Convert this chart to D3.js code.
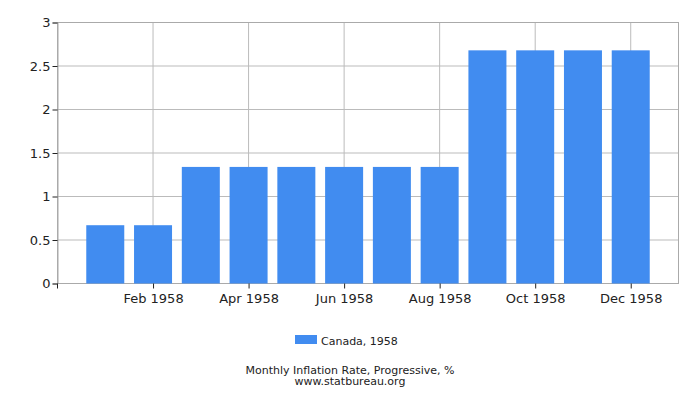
<!DOCTYPE html>
<html>
<head>
<meta charset="utf-8">
<script src="https://cdn.jsdelivr.net/npm/d3@7"></script>
<style>
  body { margin: 0; background: #fff; }
  text { font-family: "DejaVu Sans", sans-serif; fill: #222; }
</style>
</head>
<body>
<script>
// data
var months = ["Jan 1958","Feb 1958","Mar 1958","Apr 1958","May 1958","Jun 1958",
              "Jul 1958","Aug 1958","Sep 1958","Oct 1958","Nov 1958","Dec 1958"];
var values = [0.67, 0.67, 1.34, 1.34, 1.34, 1.34, 1.34, 1.34, 2.68, 2.68, 2.68, 2.68];
var yTicks = [0, 0.5, 1, 1.5, 2, 2.5, 3];
var seriesName = "Canada, 1958";
var title = "Monthly Inflation Rate, Progressive, %";
var site = "www.statbureau.org";

var W = 700, H = 400;
// plot frame (window.top is taken, so own names)
var pLeft = 57.5, pRight = 678.5, pTop = 22.5, pBottom = 283.5;

var svg = d3.select("body").append("svg")
    .attr("width", W)
    .attr("height", H);

// months sit on index 0..11, the frame runs from -1 to 12
var x = d3.scaleLinear().domain([-1, 12]).range([pLeft, pRight]);
var y = d3.scaleLinear().domain([0, 3]).range([pBottom, pTop]);
var barW = 38;

// horizontal grid
svg.selectAll("line.hgrid")
    .data(yTicks).enter()
    .append("line")
    .attr("x1", pLeft).attr("x2", pRight)
    .attr("y1", function(d){ return y(d); })
    .attr("y2", function(d){ return y(d); })
    .attr("stroke", "#bbb").attr("stroke-width", 1);

// vertical grid on every second month (Feb, Apr ...)
var labelIdx = [1, 3, 5, 7, 9, 11];
svg.selectAll("line.vgrid")
    .data(labelIdx).enter()
    .append("line")
    .attr("x1", function(d){ return x(d); })
    .attr("x2", function(d){ return x(d); })
    .attr("y1", pTop).attr("y2", pBottom)
    .attr("stroke", "#bbb").attr("stroke-width", 1);

// frame
svg.append("rect")
    .attr("x", pLeft).attr("y", pTop)
    .attr("width", pRight - pLeft).attr("height", pBottom - pTop)
    .attr("fill", "none").attr("stroke", "#aaa").attr("stroke-width", 1);

// bars
svg.selectAll("rect.bar")
    .data(values).enter()
    .append("rect")
    .attr("class", "bar")
    .attr("x", function(d, i){ return x(i) - barW / 2; })
    .attr("y", function(d){ return y(d); })
    .attr("width", barW)
    .attr("height", function(d){ return y(0) - y(d); })
    .attr("fill", "#418cf0");

// y axis
var yAxis = d3.axisLeft(y).tickValues(yTicks).tickSize(5).tickPadding(2)
    .tickFormat(function(d){ return d; });
var gy = svg.append("g").attr("transform", "translate(" + pLeft + ",0)").call(yAxis);
gy.select(".domain").attr("stroke", "#aaa");
gy.selectAll(".tick line").attr("stroke", "#222");
gy.selectAll("text").style("font-size", "13px").attr("font-family", "DejaVu Sans");

// x axis
var xAxis = d3.axisBottom(x).tickValues(labelIdx).tickSize(5).tickPadding(5)
    .tickFormat(function(d){ return months[d]; });
var gx = svg.append("g").attr("transform", "translate(0," + pBottom + ")").call(xAxis);
gx.select(".domain").remove();
gx.selectAll(".tick line").attr("stroke", "#222");
gx.selectAll("text").style("font-size", "13px").attr("font-family", "DejaVu Sans");
// small tick at the left corner
svg.append("line")
    .attr("x1", pLeft).attr("x2", pLeft)
    .attr("y1", pBottom).attr("y2", pBottom + 5)
    .attr("stroke", "#222");

// legend
svg.append("rect")
    .attr("x", 295).attr("y", 335)
    .attr("width", 22).attr("height", 9)
    .attr("fill", "#418cf0");
svg.append("text")
    .attr("x", 321).attr("y", 345)
    .style("font-size", "11px")
    .text(seriesName);

// caption
svg.append("text")
    .attr("x", 350).attr("y", 374)
    .attr("text-anchor", "middle")
    .style("font-size", "11px")
    .text(title);
svg.append("text")
    .attr("x", 350).attr("y", 385)
    .attr("text-anchor", "middle")
    .style("font-size", "11px")
    .text(site);
</script>
</body>
</html>
